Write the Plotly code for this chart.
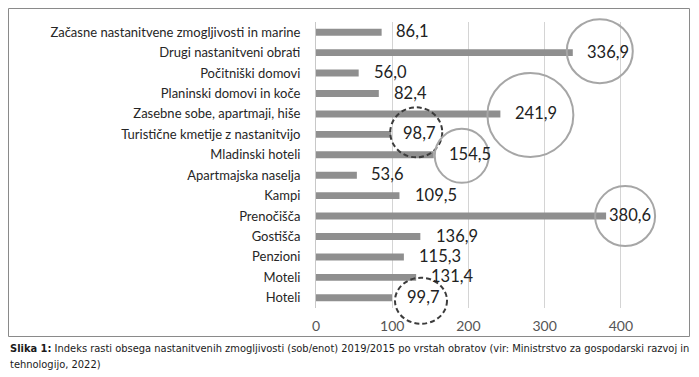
import plotly.graph_objects as go

categories = [
    "Začasne nastanitvene zmogljivosti in marine",
    "Drugi nastanitveni obrati",
    "Počitniški domovi",
    "Planinski domovi in koče",
    "Zasebne sobe, apartmaji, hiše",
    "Turistične kmetije z nastanitvijo",
    "Mladinski hoteli",
    "Apartmajska naselja",
    "Kampi",
    "Prenočišča",
    "Gostišča",
    "Penzioni",
    "Moteli",
    "Hoteli",
]
values = [86.1, 336.9, 56.0, 82.4, 241.9, 98.7, 154.5, 53.6, 109.5, 380.6, 136.9, 115.3, 131.4, 99.7]
labels = [f"{v:.1f}".replace(".", ",") for v in values]
tick_vals = [0, 100, 200, 300, 400]
X_MAX = 450

# page body has an 8px margin; the figure is sized to fit the window
OFF = 8
W, H = 699 - OFF, 377 - OFF
ML, MR, MT, MB = 308, 40, 14, 69
PW = W - ML - MR
PH = H - MT - MB
N = len(categories)

def px(x):
    return (x - OFF - ML) / PW

def py(y):
    return (H - MB - (y - OFF)) / PH

# label horizontal shifts (px) from bar end
label_shift = [12, 12, 13, 13, 13, 10, 13, 12, 14, 1, 14, 13, 13, 13]

# highlight circles: (category index, dx, dy, rx, ry, style)
circles = [
    (1, 27, -1.5, 33, 32, "solid"),
    (4, 30, 1, 43, 42, "solid"),
    (5, 25, -2, 26, 25, "dash"),
    (6, 28, 1, 27, 27, "solid"),
    (9, 19, 0, 30, 30, "solid"),
    (13, 29, 3, 26, 23, "dash"),
]

fig = go.Figure()
fig.add_trace(go.Bar(
    x=values, y=categories, orientation="h",
    marker=dict(color="#8f8f8f", line=dict(width=0)),
    hoverinfo="skip",
))

annotations = []
for c, v, lab, s in zip(categories, values, labels, label_shift):
    annotations.append(dict(
        x=v, y=c, xref="x", yref="y", text=lab, showarrow=False,
        xanchor="left", yanchor="middle", xshift=s, yshift=1,
        font=dict(family="Lato", size=16.5, color="#222222"),
    ))

shapes = []
for idx, dx, dy, rx, ry, style in circles:
    col = "#a6a6a6" if style == "solid" else "#3c3c3c"
    # anchor in paper units derived from the data value / category slot (avoids subplot clipping)
    ax = values[idx] / X_MAX
    ay = (N - 1 - idx + 0.5) / N
    shapes.append(dict(
        type="circle", xref="paper", yref="paper",
        xsizemode="pixel", ysizemode="pixel",
        xanchor=ax, yanchor=ay,
        x0=dx - rx, x1=dx + rx, y0=-dy - ry, y1=-dy + ry,
        line=dict(color=col, width=2, dash="5px,3px" if style == "dash" else "solid"),
        layer="above",
    ))

# outer frame
shapes.append(dict(
    type="rect", xref="paper", yref="paper",
    x0=px(8.5), x1=px(689.5), y0=py(336.5), y1=py(8.5),
    line=dict(color="#8a8a8a", width=1), layer="above",
))

cap_font = dict(family="DejaVu Sans Condensed, Liberation Sans", size=11, color="#1a1a1a")
annotations.append(dict(
    xref="paper", yref="paper", x=px(8), y=py(348), xanchor="left", yanchor="middle",
    showarrow=False, align="left",
    text="<b>Slika 1:</b> Indeks rasti obsega nastanitvenih zmogljivosti (sob/enot) 2019/2015 po vrstah obratov (vir: Ministrstvo za gospodarski razvoj in",
    font=cap_font,
))
annotations.append(dict(
    xref="paper", yref="paper", x=px(8), y=py(364), xanchor="left", yanchor="middle",
    showarrow=False, align="left",
    text="tehnologijo, 2022)",
    font=cap_font,
))

fig.update_layout(
    width=W, height=H,
    margin=dict(l=ML, r=MR, t=MT, b=MB, pad=0, autoexpand=False),
    paper_bgcolor="white", plot_bgcolor="white",
    showlegend=False, bargap=0.66,
    annotations=annotations, shapes=shapes,
    xaxis=dict(
        range=[0, X_MAX], tickvals=tick_vals, showgrid=True,
        gridcolor="#d4d4d4", gridwidth=1, zeroline=False,
        showline=False, ticks="", automargin=False,
        tickfont=dict(family="Lato", size=14, color="#555555"),
        ticklabelstandoff=8,
    ),
    yaxis=dict(
        categoryorder="array", categoryarray=categories[::-1],
        range=[-0.5, N - 0.5], showgrid=False, zeroline=False,
        showline=True, linecolor="#c8c8c8", linewidth=1,
        ticks="", ticklabelstandoff=12, automargin=False,
        tickfont=dict(family="Lato", size=13, color="#262626"),
    ),
    font=dict(family="Lato"),
)

fig.write_html("out.html")
